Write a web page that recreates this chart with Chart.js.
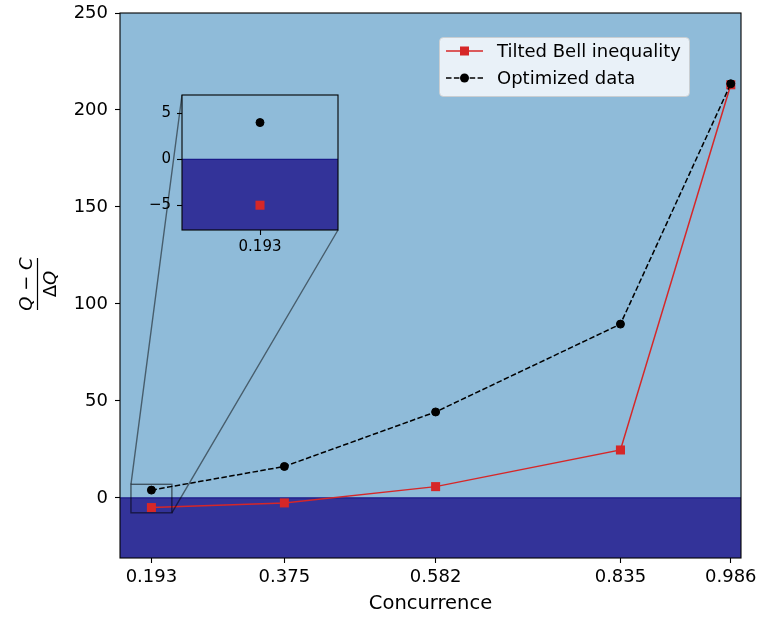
<!DOCTYPE html>
<html>
<head>
<meta charset="utf-8">
<script src="https://cdn.jsdelivr.net/npm/chart.js@4"></script>
<style>
  html, body { margin:0; padding:0; background:#fff; }
  #wrap { position:relative; width:758px; height:618px; }
  #mainChart { position:absolute; left:0; top:0; }
  #insetChart { position:absolute; left:130px; top:85px; }
</style>
</head>
<body>
<div id="wrap">
  <canvas id="mainChart" width="758" height="618"></canvas>
  <canvas id="insetChart" width="220" height="180"></canvas>
</div>
<script>
// =======================
// DATA
// =======================
const concurrence = [0.193, 0.375, 0.582, 0.835, 0.986];
const tiltedBell  = [-5, -2.6, 5.8, 24.7, 213];
const optimized   = [4, 16.2, 44.3, 89.6, 213.5];
const seriesNames = ['Tilted Bell inequality', 'Optimized data'];
const yTicks      = [0, 50, 100, 150, 200, 250];
const insetXTicks = [0.193];
const insetYTicks = [-5, 0, 5];

const FONT = 'DejaVu Sans';
const RED = '#d62728';
const LIGHT = '#8fbbd9';
const DARK = '#333399';

// inset placement (page px) - must match the css above
const INSET = { left:130, top:85, padL:52, padT:10, padR:12, axisH:35, w:220, h:180 };
const insetBox = {
  x0: INSET.left + INSET.padL,
  y0: INSET.top + INSET.padT,
  x1: INSET.left + INSET.w - INSET.padR,
  y1: INSET.top + INSET.h - INSET.axisH
};
// zoomed region
const zoomX = [0.165, 0.221];
const zoomY = [-7.7, 7];

const pts = arr => concurrence.map((x,i) => ({x, y:arr[i]}));

// =======================
// PLUGINS
// =======================
const splitBg = {
  id:'splitBg',
  beforeDatasetsDraw(chart){
    const {ctx, chartArea:a, scales:{y}} = chart;
    const y0 = y.getPixelForValue(0);
    ctx.save();
    ctx.fillStyle = LIGHT;
    ctx.fillRect(a.left, a.top, a.width, y0 - a.top);
    ctx.fillStyle = DARK;
    ctx.fillRect(a.left, y0, a.width, a.bottom - y0);
    ctx.strokeStyle = '#1a1a88';
    ctx.lineWidth = 1.2;
    ctx.beginPath(); ctx.moveTo(a.left, y0); ctx.lineTo(a.right, y0); ctx.stroke();
    ctx.restore();
  },
  afterDraw(chart){
    const {ctx, chartArea:a} = chart;
    ctx.save();
    ctx.strokeStyle = '#000';
    ctx.lineWidth = 1.1;
    ctx.strokeRect(a.left, a.top, a.width, a.height);
    ctx.restore();
  }
};

const decorations = {
  id:'decorations',
  afterDraw(chart){
    const {ctx, chartArea:a, scales:{x, y}} = chart;
    ctx.save();

    // zoom indicator + connectors
    const rx0 = x.getPixelForValue(zoomX[0]), rx1 = x.getPixelForValue(zoomX[1]);
    const ry0 = y.getPixelForValue(zoomY[1]), ry1 = y.getPixelForValue(zoomY[0]);
    ctx.strokeStyle = 'rgba(0,0,0,0.55)';
    ctx.lineWidth = 1.4;
    ctx.strokeRect(rx0, ry0, rx1 - rx0, ry1 - ry0);
    ctx.strokeStyle = 'rgba(0,0,0,0.5)';
    ctx.lineWidth = 1.4;
    ctx.beginPath();
    ctx.moveTo(rx0, ry0); ctx.lineTo(insetBox.x0, insetBox.y0);
    ctx.moveTo(rx1, ry1); ctx.lineTo(insetBox.x1, insetBox.y1);
    ctx.stroke();

    // legend
    const lx = 439, ly = 37, lw = 250, lh = 59;
    ctx.fillStyle = 'rgba(255,255,255,0.8)';
    ctx.strokeStyle = 'rgba(204,204,204,0.8)';
    ctx.lineWidth = 1;
    ctx.beginPath();
    ctx.roundRect(lx + 0.5, ly + 0.5, lw, lh, 4);
    ctx.fill(); ctx.stroke();

    const rows = [ly + 14, ly + 41];
    // red row
    ctx.strokeStyle = RED; ctx.lineWidth = 1.5;
    ctx.beginPath(); ctx.moveTo(446, rows[0]); ctx.lineTo(483, rows[0]); ctx.stroke();
    ctx.fillStyle = RED;
    ctx.fillRect(464.5 - 4.5, rows[0] - 4.5, 9, 9);
    // black row
    ctx.strokeStyle = '#000'; ctx.lineWidth = 1.5;
    ctx.setLineDash([5.5, 2.4]);
    ctx.beginPath(); ctx.moveTo(446, rows[1]); ctx.lineTo(483, rows[1]); ctx.stroke();
    ctx.setLineDash([]);
    ctx.fillStyle = '#000';
    ctx.beginPath(); ctx.arc(464.5, rows[1], 4.5, 0, Math.PI*2); ctx.fill();

    ctx.font = '18px "' + FONT + '"';
    ctx.textBaseline = 'middle';
    ctx.textAlign = 'left';
    ctx.fillStyle = '#000';
    ctx.fillText(seriesNames[0], 497, rows[0] + 1);
    ctx.fillText(seriesNames[1], 497, rows[1] + 1);

    // x title
    ctx.textAlign = 'center';
    ctx.font = '19.5px "' + FONT + '"';
    ctx.fillText('Concurrence', (a.left + a.right) / 2, 604);

    // y title: (Q - C) / ΔQ, rotated
    ctx.translate(37.5, 284);
    ctx.rotate(-Math.PI/2);
    ctx.font = 'italic 18px "' + FONT + '"';
    ctx.textBaseline = 'alphabetic';
    ctx.fillText('Q \u2212 C', 0, -6);
    ctx.lineWidth = 1.2; ctx.strokeStyle = '#000';
    ctx.beginPath(); ctx.moveTo(-26, 0); ctx.lineTo(26, 0); ctx.stroke();
    ctx.font = '18px "' + FONT + '"';
    const dW = ctx.measureText('\u0394').width;
    ctx.font = 'italic 18px "' + FONT + '"';
    const qW = ctx.measureText('Q').width;
    const start = -(dW + qW) / 2;
    ctx.textAlign = 'left';
    ctx.font = '18px "' + FONT + '"';
    ctx.fillText('\u0394', start, 18);
    ctx.font = 'italic 18px "' + FONT + '"';
    ctx.fillText('Q', start + dW, 18);

    ctx.restore();
  }
};

// =======================
// CHARTS
// =======================
function noPad(s){ s.paddingTop = 0; s.paddingBottom = 0; s.paddingLeft = 0; s.paddingRight = 0; }

function tickScale(vals, fmt, size, pad, extra){
  return Object.assign({
    type:'linear',
    afterBuildTicks: s => { s.ticks = vals.map(v => ({value:v})); },
    ticks:{ autoSkip:false, maxRotation:0, color:'#000', padding:pad,
            font:{family:FONT, size}, callback:fmt },
    grid:{ drawOnChartArea:false, drawTicks:true, tickLength:5, tickColor:'#000', tickWidth:1.1 },
    border:{ display:false }
  }, extra);
}

new Chart(document.getElementById('mainChart'), {
  type:'line',
  data:{ datasets:[
    { label:seriesNames[1], data:pts(optimized), borderColor:'#000', borderWidth:1.5,
      borderDash:[5.5,2.4], pointStyle:'circle', pointRadius:4, pointBorderWidth:1,
      pointBackgroundColor:'#000', pointBorderColor:'#000', tension:0 },
    { label:seriesNames[0], data:pts(tiltedBell), borderColor:RED, borderWidth:1.5,
      pointStyle:'rect', pointRadius:6.4, pointBorderWidth:0,
      pointBackgroundColor:RED, pointBorderColor:RED, tension:0 }
  ]},
  options:{
    responsive:false, animation:false, devicePixelRatio:1,
    layout:{ padding:{ top:13, right:17, left:0, bottom:0 } },
    plugins:{ legend:{display:false}, tooltip:{enabled:false} },
    scales:{
      x: tickScale(concurrence, v => v.toFixed(3), 18, 4,
          { min:0.15, max:1.0, afterFit: s => { s.height = 60; noPad(s); } }),
      y: tickScale(yTicks, v => String(v), 18, 7,
          { min:-31, max:250, afterFit: s => { s.width = 120; noPad(s); } })
    }
  },
  plugins:[splitBg, decorations]
});

new Chart(document.getElementById('insetChart'), {
  type:'scatter',
  data:{ datasets:[
    { data:pts(optimized), showLine:false, pointStyle:'circle', pointRadius:4, pointBorderWidth:1,
      pointBackgroundColor:'#000', pointBorderColor:'#000' },
    { data:pts(tiltedBell), showLine:false, pointStyle:'rect', pointRadius:6.4, pointBorderWidth:0,
      pointBackgroundColor:RED, pointBorderColor:RED }
  ]},
  options:{
    responsive:false, animation:false, devicePixelRatio:1,
    layout:{ padding:{ top:INSET.padT, right:INSET.padR, left:0, bottom:0 } },
    plugins:{ legend:{display:false}, tooltip:{enabled:false} },
    scales:{
      x: tickScale(insetXTicks, v => v.toFixed(3), 15, 3,
          { min:zoomX[0], max:zoomX[1], afterFit: s => { s.height = INSET.axisH; noPad(s); } }),
      y: tickScale(insetYTicks, v => String(v).replace('-', '\u2212'), 15, 6,
          { min:zoomY[0], max:zoomY[1], afterFit: s => { s.width = INSET.padL; noPad(s); } })
    }
  },
  plugins:[splitBg]
});
</script>
</body>
</html>
